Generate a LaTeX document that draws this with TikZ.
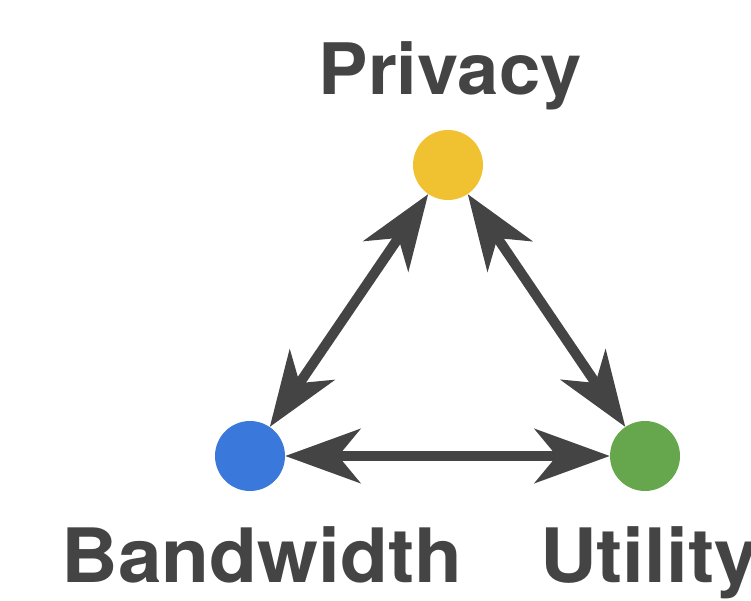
\documentclass[tikz,border=0pt]{standalone}
\usepackage{fontspec}
\setmainfont{TeX Gyre Heros}
\usetikzlibrary{arrows.meta}
\definecolor{txtgray}{HTML}{444444}
\definecolor{privy}{HTML}{F0C232}
\definecolor{bandb}{HTML}{3B78DB}
\definecolor{utilg}{HTML}{66A74E}
\tikzset{
  dot/.style={circle, inner sep=0pt, minimum size=70pt, draw=none},
  lbl/.style={text=txtgray, font=\bfseries\fontsize{75}{80}\selectfont, inner sep=0pt, anchor=base, xscale=1.045},
  link/.style={draw=txtgray, line width=10pt,
    {Stealth[length=75pt,width=54pt,inset=22pt,fill=txtgray]}-{Stealth[length=75pt,width=54pt,inset=22pt,fill=txtgray]}}
}
\begin{document}
\begin{tikzpicture}[x=1pt,y=-1pt]
\useasboundingbox (0,0) rectangle (751,601);
\node[dot, fill=privy] (p) at (448,165) {};
\node[dot, fill=bandb] (b) at (250,456) {};
\node[dot, fill=utilg] (u) at (645,456) {};
\draw[link] (p) -- (b);
\draw[link] (p) -- (u);
\draw[link] (b) -- (u);
\node[lbl, font=\bfseries\fontsize{71}{78}\selectfont, xscale=1.0] (tp) at (450,95) {Privacy};
\node[lbl] (tb) at (262,582) {Bandwidth};
\node[lbl, anchor=base west] (tu) at (540,582) {Utility};
\end{tikzpicture}
\end{document}
